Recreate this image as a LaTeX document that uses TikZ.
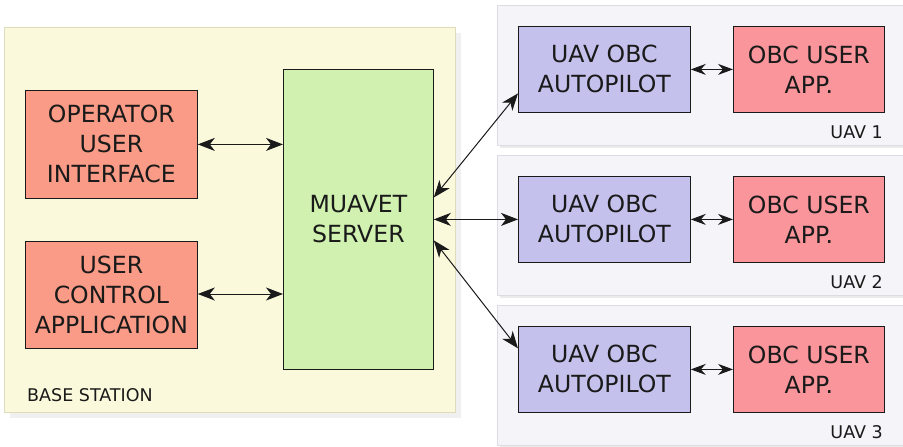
\documentclass[tikz,border=0pt]{standalone}
\usepackage{fontspec}
\setmainfont{DejaVu Sans}
\usetikzlibrary{arrows.meta}
\definecolor{basebg}{HTML}{FAF9DC}
\definecolor{baseline}{HTML}{DEDCBC}
\definecolor{uavbg}{HTML}{F4F4F9}
\definecolor{uavline}{HTML}{DCDCE4}
\definecolor{salmon}{HTML}{F99B86}
\definecolor{server}{HTML}{D0F1AF}
\definecolor{obc}{HTML}{C4C2EC}
\definecolor{app}{HTML}{F9959B}
\definecolor{ink}{HTML}{1A1A1A}
\tikzset{
  x=1pt, y=-1pt,
  panel/.style={draw=#1, line width=0.8pt},
  block/.style={draw=ink, line width=0.8pt, anchor=north west, inner sep=0pt,
    align=center, text=ink, font=\fontsize{23.6}{30}\selectfont},
  tag/.style={text=ink, font=\fontsize{17.5}{20}\selectfont, inner sep=0pt},
  link/.style={draw=ink, line width=1pt,
    {Stealth[length=17pt,width=13pt,inset=5pt]}-{Stealth[length=17pt,width=13pt,inset=5pt]}},
  shortlink/.style={draw=ink, line width=1pt,
    {Stealth[length=15pt,width=11pt,inset=5pt]}-{Stealth[length=15pt,width=11pt,inset=5pt]}}
}
\begin{document}
\begin{tikzpicture}
\useasboundingbox (0,0) rectangle (903,447);
\fill[white] (0,0) rectangle (903,447);

% base station panel
\fill[black!6] (10,33) rectangle (461,418);
\filldraw[fill=basebg, panel=baseline] (4,27) rectangle (455,412);
\node[tag, anchor=west] (basetag) at (27,395) {BASE STATION};

% UAV panels
\foreach \t/\n in {5/1,155/2,305/3}{
  \fill[black!8] (500,\t+3) rectangle (906,\t+143);
  \filldraw[fill=uavbg, panel=uavline] (497,\t) rectangle (906,\t+140);
  \node[tag, anchor=east] (uavtag\n) at (883,\t+127) {UAV \n};
}

% base station blocks
\node[block, fill=salmon, minimum width=172pt, minimum height=108pt] (oui) at (25,90) {OPERATOR\\USER\\INTERFACE};
\node[block, fill=salmon, minimum width=172pt, minimum height=107pt] (uca) at (25,241) {USER\\CONTROL\\APPLICATION};
\node[block, fill=server, minimum width=150pt, minimum height=300pt] (srv) at (283,69) {MUAVET\\SERVER};

% UAV blocks
\foreach \t/\n in {26/1,176/2,326/3}{
  \node[block, fill=obc, minimum width=172pt, minimum height=86pt] (ap\n) at (518,\t) {UAV OBC\\AUTOPILOT};
  \node[block, fill=app, minimum width=151pt, minimum height=86pt] (ua\n) at (733,\t) {OBC USER\\APP.};
  \draw[shortlink] (ap\n.east) -- (ua\n.west);
}

% connections
\draw[link] (oui.east) -- (oui.east -| srv.west);
\draw[link] (uca.east |- 0,294) -- (srv.west |- 0,294);
\draw[link] ([yshift=22pt]srv.east) -- ([yshift=-24pt]ap1.west);
\draw[link] (srv.east) -- (ap2.west);
\draw[link] ([yshift=-21pt]srv.east) -- ([yshift=21pt]ap3.west);
\end{tikzpicture}
\end{document}
